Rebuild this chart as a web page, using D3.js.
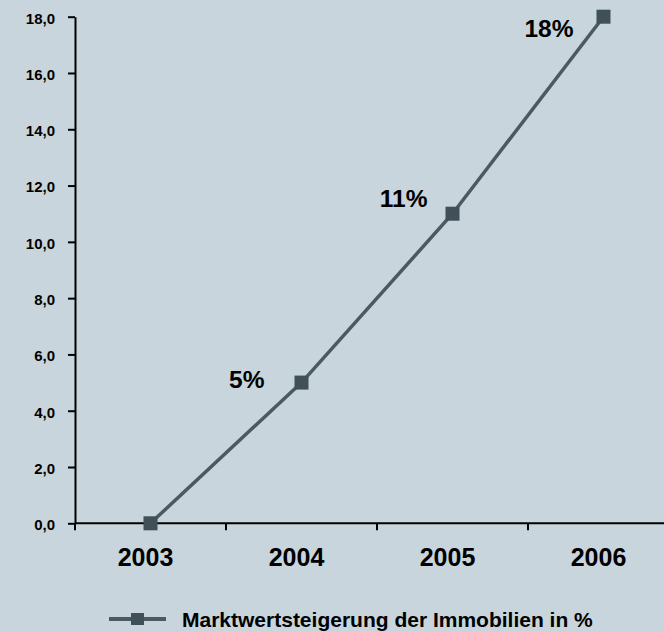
<!DOCTYPE html>
<html>
<head>
<meta charset="utf-8">
<script src="https://cdn.jsdelivr.net/npm/d3@7"></script>
<style>
  html, body { margin: 0; padding: 0; background: #c9d5dc; }
  svg { display: block; font-family: "Liberation Sans", Arial, sans-serif; font-weight: bold; }
</style>
</head>
<body>
<svg id="chart" width="664" height="632"></svg>
<script>
// Market value increase of real estate, percent per year
const years = ["2003", "2004", "2005", "2006"];
const values = [0, 5, 11, 18];
const yTicks = [0, 2, 4, 6, 8, 10, 12, 14, 16, 18];
const seriesName = "Marktwertsteigerung der Immobilien in %";

const lineColor = "#4b5a62";
const markerColor = "#3f5058";

const svg = d3.select("#chart");

const x = d3.scaleBand().domain(years).range([75, 679]).padding(0);
const y = d3.scaleLinear().domain([0, 18]).range([523.3, 16.7]);
const cx = d => x(d) + x.bandwidth() / 2;

const fmt = v => v.toFixed(1).replace(".", ",");

// y axis
const yAxis = svg.append("g")
  .attr("transform", "translate(75,0)")
  .call(d3.axisLeft(y).tickValues(yTicks).tickFormat(fmt).tickSize(7).tickSizeOuter(0).tickPadding(13));
yAxis.select(".domain").attr("stroke", "#000").attr("stroke-width", 2);
yAxis.selectAll(".tick line").attr("stroke", "#000").attr("stroke-width", 2);
yAxis.selectAll(".tick text")
  .attr("fill", "#000")
  .attr("font-size", 15)
  .attr("font-family", "Liberation Sans, Arial, sans-serif")
  .attr("font-weight", "bold")
  .attr("dy", "0.42em");

// x axis: baseline with ticks at category boundaries
const xAxis = svg.append("g");
xAxis.append("line")
  .attr("x1", x.range()[0]).attr("x2", x.range()[1])
  .attr("y1", y(0)).attr("y2", y(0))
  .attr("stroke", "#000").attr("stroke-width", 2);
xAxis.selectAll("line.tick")
  .data(years.concat(["end"]))
  .join("line")
  .attr("class", "tick")
  .attr("x1", (d, i) => i < years.length ? x(d) : x.range()[1])
  .attr("x2", (d, i) => i < years.length ? x(d) : x.range()[1])
  .attr("y1", y(0)).attr("y2", y(0) + 7)
  .attr("stroke", "#000").attr("stroke-width", 2);
xAxis.selectAll("text")
  .data(years)
  .join("text")
  .attr("x", d => cx(d) - 5)
  .attr("y", 566)
  .attr("text-anchor", "middle")
  .attr("font-size", 25)
  .attr("fill", "#000")
  .text(d => d);

// series line
const pts = years.map((d, i) => [cx(d), y(values[i])]);
svg.append("path")
  .attr("d", d3.line()(pts))
  .attr("fill", "none")
  .attr("stroke", lineColor)
  .attr("stroke-width", 3.5);

// square markers
const ms = 14;
svg.selectAll("rect.marker")
  .data(pts)
  .join("rect")
  .attr("class", "marker")
  .attr("x", d => d[0] - ms / 2)
  .attr("y", d => d[1] - ms / 2)
  .attr("width", ms).attr("height", ms)
  .attr("fill", markerColor);

// value labels, set to the left of each point
const labelShift = [[0, 0], [-37, 5], [-25, -7], [-30, 20]];
svg.selectAll("text.value")
  .data(values.map((v, i) => ({ v, i })).filter(d => d.v > 0))
  .join("text")
  .attr("class", "value")
  .attr("x", d => pts[d.i][0] + labelShift[d.i][0])
  .attr("y", d => pts[d.i][1] + labelShift[d.i][1])
  .attr("text-anchor", "end")
  .attr("font-size", 24.5)
  .attr("fill", "#000")
  .text(d => d.v + "%");

// legend
const lg = svg.append("g");
lg.append("line")
  .attr("x1", 109).attr("x2", 166).attr("y1", 619).attr("y2", 619)
  .attr("stroke", lineColor).attr("stroke-width", 4);
lg.append("rect")
  .attr("x", 131).attr("y", 613).attr("width", 13).attr("height", 12)
  .attr("fill", markerColor);
lg.append("text")
  .attr("x", 182).attr("y", 627)
  .attr("font-size", 21)
  .attr("fill", "#000")
  .text(seriesName);
</script>
</body>
</html>
